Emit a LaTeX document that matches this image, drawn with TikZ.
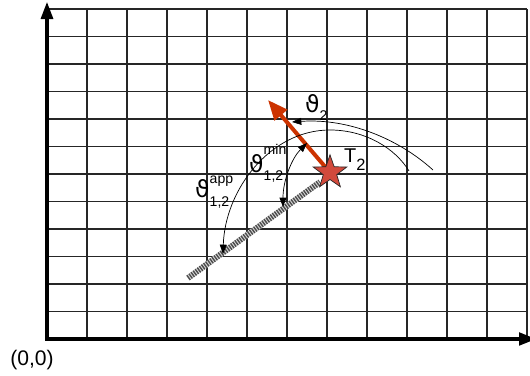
\documentclass[tikz,border=0pt]{standalone}
\usepackage{fontspec}
\setmainfont{Liberation Sans}
\newfontfamily\greekfont{DejaVu Sans}
\usepackage{xcolor}
\usepackage{tikz}
\usetikzlibrary{arrows.meta,shapes.geometric}
\definecolor{arrowred}{HTML}{CC3300}
\definecolor{starred}{HTML}{D24A3C}
\newcommand{\vth}{{\greekfont\fontsize{20}{22}\selectfont ϑ}}
\newcommand{\smfont}{\fontsize{12}{13}\selectfont}

\begin{document}
\begin{tikzpicture}[
    x=1.2cm, y=0.825cm,
    gridline/.style={line width=1pt, black!85},
    axisline/.style={line width=4pt, black, {Triangle[length=5.4mm,width=3.4mm]}-{Triangle[length=5.4mm,width=3.6mm]}},
    arcarr/.style={-{Triangle[length=2.8mm,width=2.1mm]}, line width=0.6pt},
    redarr/.style={-{Triangle[length=6mm,width=4.8mm]}, line width=3.4pt, arrowred},
    hatchbar/.style={line width=5pt, black!70, dash pattern=on 1.2pt off 1pt},
    starnode/.style={star, star points=5, star point ratio=2.5, minimum size=1.06cm,
                     inner sep=0pt, draw=black!85, fill=starred, line width=0.6pt},
    lbl/.style={font=\fontsize{17}{19}\selectfont, inner sep=0pt, anchor=base west}
]
\useasboundingbox (-1.175,-1.345) rectangle (12.075,12.327);

% grid
\foreach \i in {1,...,12} {
  \draw[gridline] (\i,0) -- (\i,12);
  \draw[gridline] (0,\i) -- (12,\i);
}

% axes
\coordinate (o) at (0,0);
\coordinate (ytip) at (0,12.29);
\coordinate (xtip) at (12.25,0);
\draw[axisline] (ytip) -- (o) -- (xtip);
\node[font=\fontsize{18}{20}\selectfont, inner sep=0pt] (origlbl) at (-0.375,-0.764) {(0,0)};

% hatched direction and target
\coordinate (hatchA) at (3.525,2.218);
\coordinate (hatchB) at (6.825,5.709);
\draw[line width=5pt, black!15] (hatchA) -- (hatchB);
\draw[hatchbar] (hatchA) -- (hatchB);

\coordinate (t2pos) at (7.075,6.055);
\coordinate (dirtip) at (5.525,8.69);
\draw[redarr] (t2pos) -- (dirtip);
\node[starnode] (t2) at (t2pos) {};

% angle arcs
\coordinate (appS) at (9.05,6.109);
\coordinate (appTop) at (7.075,7.6);
\coordinate (appE) at (4.4,3.091);
\draw[arcarr] (appS) .. controls (8.7,6.945) and (7.95,7.6) .. (appTop)
                     .. controls (5.575,7.6) and (4.45,5.418) .. (appE);

\coordinate (th2S) at (9.65,6.145);
\coordinate (th2E) at (6.125,7.891);
\draw[arcarr] (th2S) .. controls (8.825,7.236) and (7.575,8.036) .. (th2E);

\coordinate (minS) at (6.5,7.127);
\coordinate (minE) at (5.9,4.8);
\draw[arcarr, {Triangle[length=2.8mm,width=2.1mm]}-{Triangle[length=2.8mm,width=2.1mm]}]
  (minS) .. controls (6.125,6.582) and (5.9,5.782) .. (minE);

% labels
\node[lbl] (lblT) at (7.425,6.4) {T\raisebox{-6.8pt}{\fontsize{14}{15}\selectfont 2}};
\node[lbl] (lblth2) at (6.45,8.218) {\vth\raisebox{-6.8pt}{\smfont 2}};
\node[lbl] (lblapp) at (3.7,5.127) {\vth\rlap{\raisebox{12pt}{\smfont app}}\raisebox{-7.6pt}{\smfont 1,2}};
\node[lbl] (lblmin) at (5.05,6.036) {\vth\rlap{\raisebox{16pt}{\smfont min}}\raisebox{-6pt}{\smfont 1,2}};
\end{tikzpicture}
\end{document}
